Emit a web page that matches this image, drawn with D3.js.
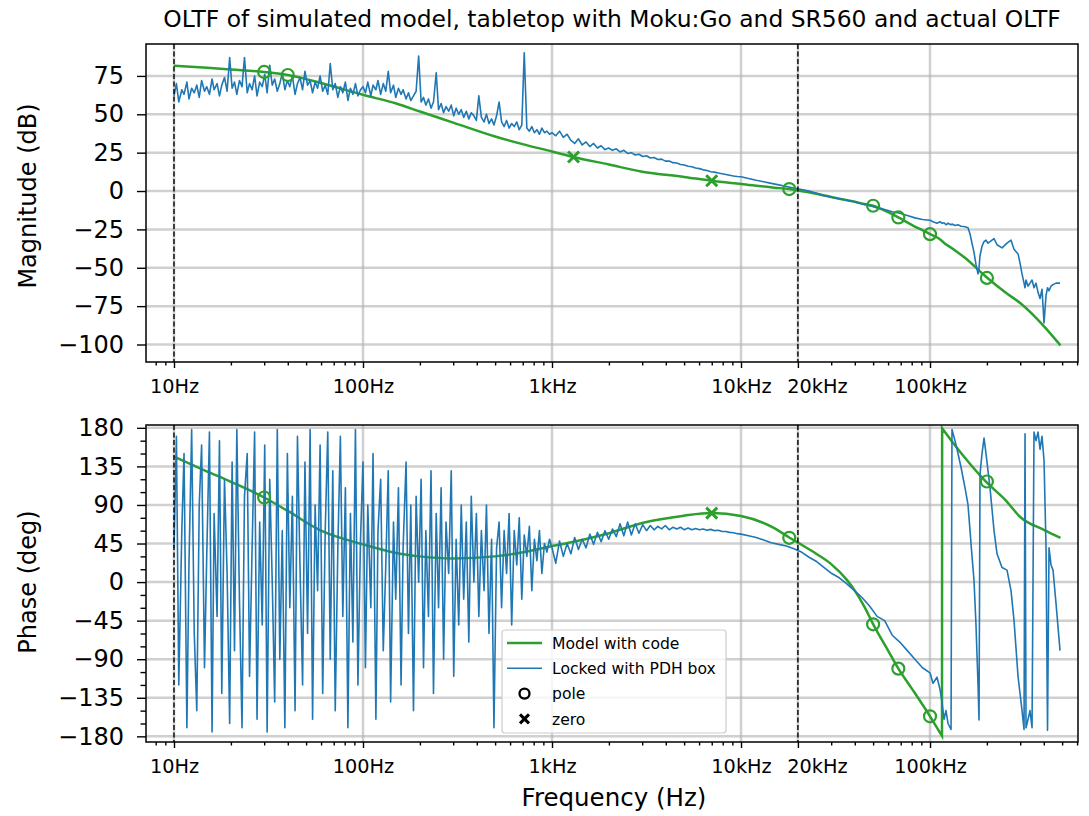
<!DOCTYPE html>
<html>
<head>
<meta charset="utf-8">
<style>
  body { margin: 0; background: #fff; }
  svg { display: block; font-family: "DejaVu Sans", sans-serif; }
</style>
</head>
<body>
<svg id="chart" width="1089" height="816"></svg>
<script src="https://cdn.jsdelivr.net/npm/d3@7"></script>
<script>

// measured sweep, "Locked with PDH box"
var measFreq = [
  10, 10.3, 10.6, 11, 11.3, 11.7, 12, 12.4, 12.8, 13.2, 13.6, 14, 14.5, 14.9, 15.4,
  15.9, 16.3, 16.9, 17.4, 17.9, 18.5, 19.1, 19.7, 20.3, 20.9, 21.5, 22.2, 22.9, 23.6, 24.4,
  25.1, 25.9, 26.7, 27.5, 28.4, 29.3, 30.2, 31.1, 32.1, 33.1, 34.1, 35.2, 36.3, 37.4, 38.6,
  39.8, 41, 42.3, 43.7, 45, 46.4, 47.9, 49.3, 50.9, 52.5, 54.1, 55.8, 57.5, 59.3, 61.2,
  63.1, 65.1, 67.1, 69.2, 71.3, 73.6, 75.9, 78.2, 80.7, 83.2, 85.8, 88.4, 91.2, 94, 97,
  100, 103, 106, 110, 113, 117, 120, 124, 128, 132, 136, 140, 145, 149, 154,
  159, 163, 169, 174, 179, 185, 191, 197, 203, 209, 215, 222, 229, 236, 244,
  251, 259, 267, 275, 284, 293, 302, 311, 321, 331, 341, 352, 363, 374, 386,
  398, 410, 423, 437, 450, 464, 479, 493, 509, 525, 541, 558, 575, 593, 612,
  631, 651, 671, 692, 713, 736, 759, 782, 807, 832, 858, 884, 912, 940, 970,
  1000, 1047, 1096, 1148, 1202, 1259, 1318, 1380, 1445, 1514, 1585, 1660, 1738, 1820, 1905, 1995, 2089, 2188, 2291, 2399,
  2512, 2630, 2754, 2884, 3020, 3162, 3311, 3467, 3631, 3802, 3981, 4169, 4365, 4571, 4786, 5012, 5248, 5495, 5754, 6026,
  6310, 6607, 6918, 7244, 7586, 7943, 8318, 8710, 9120, 9550,
  10000, 10960, 12020, 13180, 14450, 15850, 17380, 19050, 20890, 22910, 25120, 27540, 30200, 33110, 36310,
  39810, 43650, 47860, 52480, 57540, 63100, 69180, 75860, 83180, 91200,
  100000, 103700, 108900, 112900, 115800, 118600, 121500, 124500, 129200, 130700, 135600, 140600, 145900, 153200, 158900, 162800, 166800, 170900, 175100, 179500,
  181700, 183900, 188400, 193100, 197800, 202700, 207700, 218100, 226200, 240400, 255500, 268300, 278300, 292200, 299400, 306800, 314400, 318200, 322100, 330100,
  338100, 346600, 355000, 363800, 372800, 382000, 391400, 401100, 411000, 418500, 426200, 436800, 447500, 464200, 487400
];
var measMag = [
  62, 70, 58, 66, 63, 71, 60, 67, 64, 69, 61, 72, 65, 68, 63,
  73, 66, 70, 62, 69, 74, 65, 87, 67, 71, 63, 72, 68, 87, 64,
  70, 66, 75, 62, 71, 68, 76, 64, 82, 69, 73, 65, 70, 77, 66,
  72, 68, 75, 63, 70, 74, 66, 78, 69, 72, 64, 71, 67, 75, 65,
  69, 63, 83, 66, 70, 61, 68, 64, 71, 59, 67, 63, 70, 62, 66,
  68, 64, 71, 62, 69, 66, 72, 63, 70, 65, 78, 64, 69, 61, 67,
  63, 66, 60, 64, 59, 62, 65, 88, 58, 61, 56, 60, 54, 58, 77,
  53, 57, 51, 55, 52, 56, 49, 54, 50, 53, 48, 52, 47, 51, 49,
  46, 62, 48, 45, 50, 44, 47, 43, 49, 58, 45, 42, 46, 41, 44,
  42, 45, 40, 43, 90, 41, 39, 42, 38, 40, 37, 41, 38, 39, 37,
  38, 36, 39, 35, 37, 33, 31, 34, 30, 32, 29, 31, 28, 29.5, 27, 28, 26.5, 27.5, 25.5, 26.5,
  24.5, 25, 23.5, 24, 22.5, 23, 21.5, 21.8, 20.5, 20.8, 19.5, 19.5, 18.5, 18.3, 17.3, 17, 16.2, 15.8, 15, 14.6,
  13.8, 13.4, 12.6, 12.3, 11.7, 11.3, 10.8, 10.3, 9.8, 9.5,
  9.3, 8.2, 7, 6, 5, 4, 3, 2, 1, 0, -1.5, -3, -4, -5, -6,
  -7, -8.5, -9.5, -11, -12, -13.5, -14.5, -16, -17.5, -18.5,
  -19, -20, -21, -20, -21, -20.7, -22, -21, -22, -21.5, -22.5, -22, -23, -23.3, -24, -28, -34, -40, -48, -54,
  -50, -42, -36, -33, -32, -34, -33, -31, -35, -37, -34, -32, -38, -41, -47, -54, -60, -63, -58, -62,
  -60, -58, -63, -60, -66, -70, -64, -86, -68, -63, -65, -62, -61, -60, -60
];
var measPhase = [
  40, 170, -120, 60, 150, -170, 20, 178, -60, -150, 90, 160, -100, 30, 175,
  -175, 80, -40, 165, -130, 120, 10, -165, 140, -80, 178, -20, -170, 100, 150,
  -110, 40, 175, -160, 70, -50, 160, -175, 120, 0, -140, 178, -90, 60, -170,
  150, -30, 100, -150, 170, 20, -120, 140, -60, 178, -160, 90, -10, 160, -130,
  60, 175, -90, 130, -150, 40, 170, -40, 110, -170, 80, -70, 178, -120, 50,
  140, -100, 90, -30, 150, -160, 60, 120, -80, 20, 130, -140, 70, -20, 110,
  -120, 40, 140, -60, 90, -150, 100, 0, 120, -100, 60, -40, 130, -130, 80,
  -30, 110, -90, 70, 10, 130, -110, 50, -50, 90, -20, 70, -70, 100, 0,
  80, -40, 60, -10, 90, -60, 50, -170, 40, 70, -30, 60, 10, 80, -50,
  60, 20, 75, -20, 55, 30, 65, -10, 50, 25, 60, 10, 45, 35, 50,
  40, 22, 48, 30, 45, 33, 52, 38, 50, 40, 56, 44, 58, 47, 60, 50, 62, 53, 68, 54,
  70, 55, 68, 57, 67, 60, 66, 61, 65, 62, 66, 61, 64, 62, 64, 61, 63, 61, 62.5, 61,
  62, 60.5, 61.5, 60, 60.5, 59, 59, 58, 57.5, 56.5,
  56, 54, 52, 49, 46, 44, 42, 39, 35, 29, 24, 17, 10, 5, -2,
  -10, -18, -28, -40, -45, -62, -70, -80, -90, -100,
  -106, -118, -111, -125, -141, -160, -150, -165, -172, 178, 165, 150, 134, 110, 90, 60, 30, 2, -50, -120,
  -161, 126, 150, 168, 150, 130, 110, 60, 33, 17, 14, -10, -45, -110, -130, -150, -172, 173, -170, -160,
  -150, -170, 175, 165, 175, 155, 170, 142, 40, -173, 40, 20, 14, -25, -80
];

// model, "Model with code"
var modelFreq = [10, 15, 20, 30, 40, 60, 100, 150, 200, 300, 500, 750, 1000, 1300, 2000, 3000, 5000, 7000, 10000, 15000,
  18000, 20000, 25000, 30000, 36500, 40000, 45000, 50000, 60000, 68000, 80000, 100000, 115700, 115900, 130700, 153000, 197000, 250000, 300000, 400000, 490000];
var modelMag = [81.6, 80.3, 79.2, 77.6, 75.6, 70.4, 62.7, 57, 51.8, 44.6, 35.5, 29.6, 25.8, 22.2, 17.3, 12.6, 9.2, 6.7, 4.6, 2.2,
  1.3, 0.4, -1.8, -3.9, -6, -7, -8.5, -9.6, -13.8, -17.2, -22, -28.1, -32.5, -32.6, -37.3, -43.5, -55.7, -66, -73, -88, -100.6];
var modelPhase = [146.5, 129, 117, 98.7, 83, 60, 44, 34, 30, 27.5, 30, 36, 42, 47, 57, 69, 77.5, 80.5, 77, 63,
  52, 46, 33, 21, 2, -10, -29, -49, -80, -101, -124, -156.6, -179.5, 179.5, 164, 145, 117.4, 96, 76, 61, 51.7];

var poleFreq = [30, 40, 18000, 50000, 68000, 100000, 200000];
var poleMag = [77.6, 75.6, 1.3, -9.6, -17.2, -28.1, -56.6];
var zeroFreq = [1300, 7000];
var zeroMag = [22.2, 6.7];
var polePhaseFreq = [30, 18000, 50000, 68000, 100000, 200000];
var polePhase = [98.7, 51.7, -49.3, -101, -156.6, 117.4];
var zeroPhaseFreq = [7000];
var zeroPhase = [80.5];

var xTicks = [10, 100, 1000, 10000, 20000, 100000];
var xTickLabels = ["10Hz", "100Hz", "1kHz", "10kHz", "20kHz", "100kHz"];
var magTicks = [-100, -75, -50, -25, 0, 25, 50, 75];
var phaseTicks = [-180, -135, -90, -45, 0, 45, 90, 135, 180];
var markerLines = [10, 20000];

var green = "#2ca02c", blue = "#1f77b4";
var L = 146, R = 1078;

var svg = d3.select("#chart");
var defs = svg.append("defs");

var x = d3.scaleLog().domain([7.11, 606700]).range([L, R]);
var yMag = d3.scaleLinear().domain([-111.4, 95.8]).range([362, 44]);
var yPh = d3.scaleLinear().domain([-186.6, 183.3]).range([742, 425]);

var minorX = x.ticks().filter(function(d) { return xTicks.indexOf(d) < 0; });

function panel(id, y, top, bottom, yTicks, yMinor) {
  defs.append("clipPath").attr("id", id)
    .append("rect").attr("x", L).attr("y", top).attr("width", R - L).attr("height", bottom - top);

  var grid = svg.append("g").attr("stroke", "#b0b0b0").attr("stroke-opacity", 0.6).attr("stroke-width", 2.5);
  grid.selectAll(null).data(yTicks).enter().append("line")
    .attr("x1", L).attr("x2", R)
    .attr("y1", function(d) { return y(d); }).attr("y2", function(d) { return y(d); });
  grid.selectAll(null).data(xTicks).enter().append("line")
    .attr("y1", top).attr("y2", bottom)
    .attr("x1", function(d) { return x(d); }).attr("x2", function(d) { return x(d); });

  var plot = svg.append("g").attr("clip-path", "url(#" + id + ")");

  // x axis
  var xa = svg.append("g").attr("transform", "translate(0," + bottom + ")")
    .call(d3.axisBottom(x).tickValues(xTicks).tickSize(6).tickPadding(11)
      .tickFormat(function(d, i) { return xTickLabels[i]; }));
  xa.select(".domain").remove();
  xa.selectAll("text").attr("font-size", 19.3).attr("font-family", "DejaVu Sans").attr("fill", "#000")
    .attr("dx", function(d) { return d === 20000 ? 19 : 0; });
  var xm = svg.append("g").attr("transform", "translate(0," + bottom + ")")
    .call(d3.axisBottom(x).tickValues(minorX).tickSize(3.5).tickFormat(""));
  xm.select(".domain").remove();

  // y axis
  var ya = svg.append("g").attr("transform", "translate(" + L + ",0)")
    .call(d3.axisLeft(y).tickValues(yTicks).tickSize(9).tickPadding(13).tickFormat(d3.format("d")));
  ya.select(".domain").remove();
  ya.selectAll("text").attr("font-size", 24).attr("font-family", "DejaVu Sans").attr("fill", "#000");
  if (yMinor) {
    var ym = svg.append("g").attr("transform", "translate(" + L + ",0)")
      .call(d3.axisLeft(y).tickValues(yMinor).tickSize(5.5).tickFormat(""));
    ym.select(".domain").remove();
  }
  svg.selectAll(".tick line").attr("stroke", "#000").attr("stroke-width", 1.4);

  return plot;
}

function drawMarkers(g, y, pf, pv, zf, zv) {
  g.selectAll(null).data(pf).enter().append("circle")
    .attr("cx", function(d) { return x(d); })
    .attr("cy", function(d, i) { return y(pv[i]); })
    .attr("r", 6).attr("fill", "none").attr("stroke", green).attr("stroke-width", 2.2);
  g.selectAll(null).data(zf).enter().append("path")
    .attr("transform", function(d, i) { return "translate(" + x(d) + "," + y(zv[i]) + ")"; })
    .attr("d", "M-5.5,-5.5L5.5,5.5M-5.5,5.5L5.5,-5.5")
    .attr("stroke", green).attr("stroke-width", 3);
}

function frame(top, bottom) {
  svg.append("rect").attr("x", L).attr("y", top).attr("width", R - L).attr("height", bottom - top)
    .attr("fill", "none").attr("stroke", "#000").attr("stroke-width", 1.5);
}

function vDashed(g, top, bottom) {
  g.selectAll(null).data(markerLines).enter().append("line")
    .attr("x1", function(d) { return x(d); }).attr("x2", function(d) { return x(d); })
    .attr("y1", top).attr("y2", bottom)
    .attr("stroke", "#000").attr("stroke-width", 1.4).attr("stroke-dasharray", "5,2.5");
}

// ---- magnitude panel
var magPlot = panel("clipMag", yMag, 44, 362, magTicks, null);

var modelMagLine = d3.line()
  .x(function(d, i) { return x(modelFreq[i]); })
  .y(function(d) { return yMag(d); })
  .curve(d3.curveMonotoneX);
magPlot.append("path").attr("d", modelMagLine(modelMag))
  .attr("fill", "none").attr("stroke", green).attr("stroke-width", 2.5);

var measMagLine = d3.line()
  .x(function(d, i) { return x(measFreq[i]); })
  .y(function(d) { return yMag(d); });
magPlot.append("path").attr("d", measMagLine(measMag))
  .attr("fill", "none").attr("stroke", blue).attr("stroke-width", 1.6).attr("stroke-linejoin", "round");

drawMarkers(magPlot, yMag, poleFreq, poleMag, zeroFreq, zeroMag);
vDashed(magPlot, 44, 362);
frame(44, 362);

// ---- phase panel
var phMinor = d3.range(-180, 181, 15).filter(function(d) { return d % 45 !== 0; });
var phPlot = panel("clipPh", yPh, 425, 742, phaseTicks, phMinor);

// model phase wraps from -180 to +180 near 116 kHz
var wrap = modelPhase.findIndex(function(d, i) { return i > 0 && d - modelPhase[i - 1] > 180; });
var phLine = d3.line()
  .x(function(d) { return x(d[0]); })
  .y(function(d) { return yPh(d[1]); })
  .curve(d3.curveMonotoneX);
var pts = modelFreq.map(function(f, i) { return [f, modelPhase[i]]; });
var p1 = phLine(pts.slice(0, wrap));
var p2 = phLine(pts.slice(wrap)).replace(/^M/, "L");
phPlot.append("path").attr("d", p1 + p2)
  .attr("fill", "none").attr("stroke", green).attr("stroke-width", 2.5);

var measPhLine = d3.line()
  .x(function(d, i) { return x(measFreq[i]); })
  .y(function(d) { return yPh(d); });
phPlot.append("path").attr("d", measPhLine(measPhase))
  .attr("fill", "none").attr("stroke", blue).attr("stroke-width", 1.6).attr("stroke-linejoin", "round");

drawMarkers(phPlot, yPh, polePhaseFreq, polePhase, zeroPhaseFreq, zeroPhase);
vDashed(phPlot, 425, 742);
frame(425, 742);

// ---- texts
svg.append("text").attr("x", 612).attr("y", 27).attr("text-anchor", "middle")
  .attr("font-size", 23.4).text("OLTF of simulated model, tabletop with Moku:Go and SR560 and actual OLTF");
svg.append("text").attr("transform", "translate(36,196) rotate(-90)").attr("text-anchor", "middle")
  .attr("font-size", 24).text("Magnitude (dB)");
svg.append("text").attr("transform", "translate(36,582) rotate(-90)").attr("text-anchor", "middle")
  .attr("font-size", 24).text("Phase (deg)");
svg.append("text").attr("x", 614).attr("y", 806).attr("text-anchor", "middle")
  .attr("font-size", 24.5).text("Frequency (Hz)");

// ---- legend
var leg = svg.append("g");
leg.append("rect").attr("x", 502).attr("y", 630).attr("width", 224).attr("height", 103)
  .attr("rx", 3).attr("fill", "#fff").attr("fill-opacity", 0.8)
  .attr("stroke", "#cccccc").attr("stroke-width", 1.2);
var legItems = [
  {label: "Model with code", kind: "line", color: green, w: 2.5},
  {label: "Locked with PDH box", kind: "line", color: blue, w: 1.6},
  {label: "pole", kind: "circle"},
  {label: "zero", kind: "x"}
];
legItems.forEach(function(it, i) {
  var cy = 643 + i * 25.3;
  if (it.kind === "line") {
    leg.append("line").attr("x1", 507).attr("x2", 542).attr("y1", cy).attr("y2", cy)
      .attr("stroke", it.color).attr("stroke-width", it.w);
  } else if (it.kind === "circle") {
    leg.append("circle").attr("cx", 524.5).attr("cy", cy).attr("r", 5)
      .attr("fill", "none").attr("stroke", "#000").attr("stroke-width", 2.3);
  } else {
    leg.append("path").attr("transform", "translate(524.5," + cy + ")")
      .attr("d", "M-4.5,-4.5L4.5,4.5M-4.5,4.5L4.5,-4.5")
      .attr("stroke", "#000").attr("stroke-width", 3);
  }
  leg.append("text").attr("x", 552).attr("y", cy + 5.6).attr("font-size", 15.6).text(it.label);
});

</script>
</body>
</html>
